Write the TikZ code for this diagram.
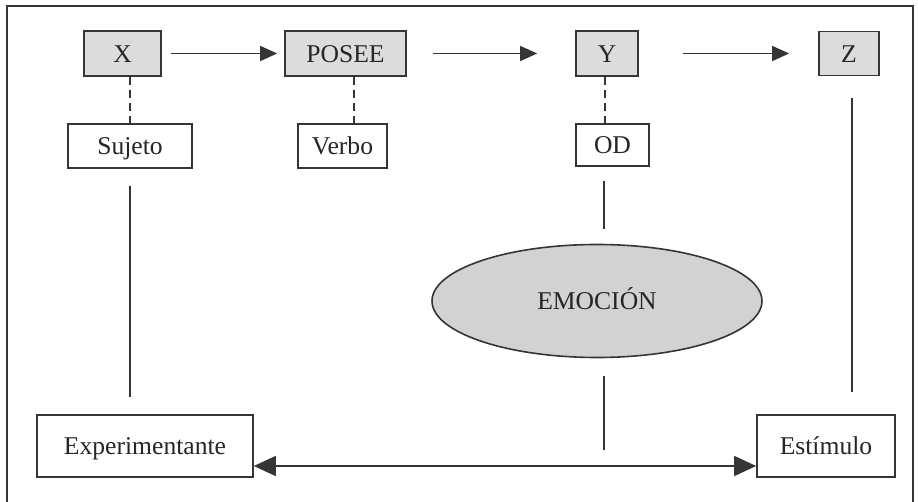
\documentclass[tikz,border=0pt]{standalone}
\usepackage{fontspec}
\setmainfont{Liberation Serif}
\usetikzlibrary{arrows.meta,shapes.geometric}
\definecolor{ink}{HTML}{353535}
\definecolor{boxfill}{HTML}{DCDCDC}
\definecolor{ellfill}{HTML}{D2D2D2}
\tikzset{
  sz/.style 2 args={minimum width=#1*0.5pt, minimum height=#2*0.5pt},
  txt/.style={text=black!85, font=\fontsize{12.8}{15}\selectfont,
    text height=8.6pt, text depth=0pt},
  base/.style={draw=ink, line width=0.8pt, inner sep=0pt, txt},
  grey/.style={base, fill=boxfill},
  plain/.style={base, fill=white},
  conn/.style={draw=ink, line width=0.7pt},
  dashlink/.style={conn, dash pattern=on 4pt off 2.5pt},
  smallarrow/.style={conn, -{Triangle[length=8.5pt,width=7.5pt]}},
  bigarrow/.style={conn, {Triangle[length=11pt,width=10pt]}-{Triangle[length=11pt,width=10pt]}}
}
\begin{document}
\begin{tikzpicture}[x=0.5pt,y=-0.5pt]
\useasboundingbox (0,0) rectangle (918,502);
\fill[white] (0,0) rectangle (918,502);
% frame
\draw[ink, line width=0.9pt] (7,503) -- (7,6) -- (913,6) -- (913,503);

% top row
\node[grey, sz={77}{45}] (X) at (122.5,53.5) {X};
\node[grey, sz={121}{45}] (P) at (345.5,53.5) {POSEE};
\node[grey, sz={62}{45}] (Y) at (607,53.5) {Y};
\node[grey, sz={60}{44}] (Z) at (849,53.5) {Z};

% second row
\node[plain, sz={124}{44}] (S) at (130,146) {Sujeto};
\node[plain, sz={89}{44}] (V) at (342.5,146) {Verbo};
\node[plain, sz={73}{42}] (OD) at (612.5,145) {OD};

% emotion
\node[ellipse, draw=ink, line width=0.8pt, fill=ellfill, inner sep=0pt,
      sz={330}{113}, txt] (E) at (597,301) {EMOCIÓN};

% bottom
\node[plain, sz={216}{62}] (Ex) at (145,446) {Experimentante};
\node[plain, sz={138}{62}] (Es) at (826,446) {Estímulo};

% top arrows
\draw[smallarrow, shorten <=4.5pt, shorten >=3.5pt] (X.east) -- (P.west);
\draw[smallarrow, shorten <=13pt, shorten >=19pt] (P.east) -- (Y.west);
\draw[smallarrow, shorten <=22pt, shorten >=14.5pt] (Y.east) -- (Z.west);

% dashed links
\draw[dashlink] (S.north |- X.south) -- (S.north);
\draw[dashlink] ([xshift=4.25pt]P.south) -- ([xshift=4.25pt]P.south |- V.north);
\draw[dashlink] ([xshift=-1pt]Y.south) -- ([xshift=-1pt]Y.south |- OD.north);

% solid links
\draw[conn, shorten <=8.5pt, shorten >=8.5pt] (S.south) -- (S.south |- Ex.north);
\draw[conn, shorten <=11pt, shorten >=11pt] ([xshift=1.5pt]Z.south) -- ([xshift=1.5pt]Z.south |- Es.north);
\coordinate (em) at (604,450);
\draw[conn, shorten <=7pt, shorten >=7.3pt] (em |- OD.south) -- (em |- E.north);
\draw[conn, shorten <=9pt] (em |- E.south) -- (em);

% double arrow
\draw[bigarrow] ([yshift=-10pt]Ex.east) -- ([yshift=-10pt]Es.west);
\end{tikzpicture}
\end{document}
